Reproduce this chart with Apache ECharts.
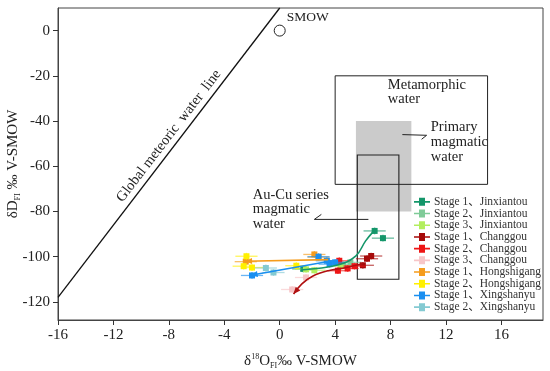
<!DOCTYPE html>
<html><head><meta charset="utf-8">
<script src="https://cdn.jsdelivr.net/npm/echarts@6/dist/echarts.min.js"></script>
<style>html,body{margin:0;padding:0;background:#fff}#c{width:550px;height:371px}</style>
</head><body><div id="c"></div>
<script>
// ---- tick labels / ranges ----
const xTicks = [-16, -12, -8, -4, 0, 4, 8, 12, 16];
const yTicks = [-120, -100, -80, -60, -40, -20, 0];
const xRange = [-16, 19];
const yRange = [-128, 10];

// ---- series (δ18O, δD) ----
const seriesNames = [
  'Stage 1、Jinxiantou', 'Stage 2、Jinxiantou', 'Stage 3、Jinxiantou',
  'Stage 1、Changgou', 'Stage 2、Changgou', 'Stage 3、Changgou',
  'Stage 1、Hongshigang', 'Stage 2、Hongshigang',
  'Stage 1、Xingshanyu', 'Stage 2、Xingshanyu'
];
const s1Jinxiantou = [[6.85, -88.6], [7.45, -91.8], [1.7, -105.4]];
const s2Jinxiantou = [[5.1, -102.5], [4.6, -103.6]];
const s3Jinxiantou = [[1.9, -105.6], [2.5, -106.0], [4.4, -104.2]];
const s1Changgou = [[6.6, -99.7], [6.3, -100.9], [6.0, -103.8]];
const s2Changgou = [[4.2, -106.2], [4.9, -105.2], [5.4, -104.2], [4.3, -101.8]];
const s3Changgou = [[1.9, -109.2], [0.9, -114.5]];
const s1Hongshigang = [[2.5, -99.0], [2.8, -100.2], [-2.45, -102.2]];
const s2Hongshigang = [[-2.4, -99.8], [-2.0, -104.8], [-2.6, -104.2], [1.2, -104.0]];
const s1Xingshanyu = [[-2.0, -108.3], [2.8, -100.0], [3.4, -101.8], [3.6, -103.3], [4.0, -102.5]];
const s2Xingshanyu = [[-1.0, -105.0], [-0.45, -107.0]];
const seriesData = [s1Jinxiantou, s2Jinxiantou, s3Jinxiantou, s1Changgou, s2Changgou, s3Changgou,
  s1Hongshigang, s2Hongshigang, s1Xingshanyu, s2Xingshanyu];
const xErr = 0.8, yErr = 1.5;

// ---- trend curves ----
const trendJinxiantou = [[1.5, -105.9], [4.25, -103.6], [5.5, -99.6], [6.2, -93.0], [6.75, -88.9]];
const trendChanggou = [[6.0, -103.0], [4.8, -104.8], [3.5, -106.2], [2.4, -108.5], [1.6, -112.0], [1.0, -116.5]];
const trendHongshigang = [[3.5, -101.3], [-2.5, -102.0]];
const trendXingshanyu = [[3.8, -101.8], [-2.1, -108.2]];

// ---- reference fields ----
const meteoricLine = [[-16, -118], [0, 10]];
const smowPoint = [0, 0];
const metamorphicBox = [[4, -20], [15, -68]];
const magmaticBox = [[5.5, -40], [9.5, -80]];
const auCuBox = [[5.6, -55], [8.6, -110]];
const primaryPointer = [[8.85, -46.0], [10.6, -46.3]];
const auCuPointer = [[6.4, -83.5], [2.5, -83.5]];

const colors = ['#14966a', '#7fcb98', '#b2ee5e', '#a60a0a', '#ee1515', '#f7c6c8',
  '#f59c1c', '#fff000', '#1a8ff0', '#84cad2'];
const FONT = '"Liberation Serif","Times New Roman","Noto Sans CJK SC",serif';

function markerSeries(i) {
  const color = colors[i];
  return {
    name: seriesNames[i], type: 'custom', coordinateSystem: 'cartesian2d',
    data: seriesData[i], z: 3, itemStyle: { color },
    encode: { x: 0, y: 1 },
    renderItem: (params, api) => {
      const x = api.value(0), y = api.value(1);
      const c = api.coord([x, y]);
      const l = api.coord([x - xErr, y]), r = api.coord([x + xErr, y]);
      const t = api.coord([x, y + yErr]), b = api.coord([x, y - yErr]);
      const s = 3;
      return { type: 'group', children: [
        { type: 'line', shape: { x1: l[0], y1: l[1], x2: r[0], y2: r[1] }, style: { stroke: color, lineWidth: 1.3, opacity: 0.65 } },
        { type: 'line', shape: { x1: t[0], y1: t[1], x2: b[0], y2: b[1] }, style: { stroke: color, lineWidth: 1.3, opacity: 0.65 } },
        { type: 'rect', shape: { x: c[0] - s, y: c[1] - s, width: 2 * s, height: 2 * s }, style: { fill: color } }
      ] };
    }
  };
}

function trendSeries(pts, color, smooth, arrow) {
  return {
    type: 'custom', coordinateSystem: 'cartesian2d', silent: true, z: 4,
    data: [pts[0]], encode: { x: 0, y: 1 },
    renderItem: (params, api) => {
      const p = pts.map(d => api.coord(d));
      const children = [{ type: 'polyline', shape: { points: p, smooth: smooth }, style: { stroke: color, lineWidth: 1.6, fill: null } }];
      if (arrow) {
        const a = p[p.length - 1], b = p[p.length - 2];
        const ang = Math.atan2(a[1] - b[1], a[0] - b[0]);
        const L = 7, W = 3;
        const cx = a[0] - L * Math.cos(ang), cy = a[1] - L * Math.sin(ang);
        children.push({ type: 'polygon', shape: { points: [a,
          [cx + W * Math.sin(ang), cy - W * Math.cos(ang)],
          [cx - W * Math.sin(ang), cy + W * Math.cos(ang)]] }, style: { fill: color } });
      }
      return { type: 'group', children };
    }
  };
}

function rectFrom(api, box) {
  const p0 = api.coord(box[0]), p1 = api.coord(box[1]);
  return { x: Math.min(p0[0], p1[0]), y: Math.min(p0[1], p1[1]), width: Math.abs(p1[0] - p0[0]), height: Math.abs(p1[1] - p0[1]) };
}
function txt(api, pos, text, extra) {
  const p = api.coord(pos);
  return Object.assign({ type: 'text', x: p[0], y: p[1], style: Object.assign({ text, x: 0, y: 0, fill: '#222',
    fontFamily: FONT, fontSize: 14.5, lineHeight: 15, align: 'left', verticalAlign: 'middle' }, extra || {}) });
}

const decorGray = {
  type: 'custom', coordinateSystem: 'cartesian2d', silent: true, z: 1,
  data: [smowPoint], encode: { x: 0, y: 1 },
  renderItem: (params, api) => ({ type: 'rect', shape: rectFrom(api, magmaticBox), style: { fill: '#cbcbcb' } })
};

const decor = {
  type: 'custom', coordinateSystem: 'cartesian2d', silent: true, z: 2,
  data: [smowPoint], encode: { x: 0, y: 1 },
  renderItem: (params, api) => {
    const m0 = api.coord(meteoricLine[0]), m1 = api.coord(meteoricLine[1]);
    const rot = -Math.atan2(m1[1] - m0[1], m1[0] - m0[0]);
    const sm = api.coord(smowPoint);
    const pp0 = api.coord(primaryPointer[0]), pp1 = api.coord(primaryPointer[1]);
    const ap0 = api.coord(auCuPointer[0]), ap1 = api.coord(auCuPointer[1]);
    const stroke = { stroke: '#222', lineWidth: 1, fill: null };
    const children = [
      { type: 'line', shape: { x1: m0[0], y1: m0[1], x2: m1[0], y2: m1[1] }, style: { stroke: '#111', lineWidth: 1.3 } },
      { type: 'rect', shape: rectFrom(api, metamorphicBox), style: stroke },
      { type: 'rect', shape: rectFrom(api, auCuBox), style: { stroke: '#222', lineWidth: 1.1, fill: null } },
      { type: 'circle', shape: { cx: sm[0], cy: sm[1], r: 5.5 }, style: { stroke: '#222', lineWidth: 1, fill: '#fff' } },
      { type: 'polyline', shape: { points: [pp0, pp1, [pp1[0] - 5, pp1[1] + 4]] }, style: stroke },
      { type: 'polyline', shape: { points: [ap0, ap1, [ap1[0] + 7, ap1[1] - 5]] }, style: stroke },
      txt(api, [0.5, 5.6], 'SMOW', { fontSize: 13.5 }),
      txt(api, [7.8, -27.2], 'Metamorphic\nwater', { lineHeight: 14.5 }),
      txt(api, [10.9, -49.3], 'Primary\nmagmatic\nwater'),
      txt(api, [-1.95, -79.0], 'Au-Cu series\nmagmatic\nwater', { lineHeight: 14.5 })
    ];
    const lab = txt(api, [-8.0, -46.6], 'Global meteoric  water  line', { align: 'center', fontSize: 14.5 });
    lab.rotation = rot;
    children.push(lab);
    return { type: 'group', children };
  }
};

const chart = echarts.init(document.getElementById('c'), null, { renderer: 'canvas' });
chart.setOption({
  animation: false,
  backgroundColor: '#fff',
  grid: { left: 58, right: 7, top: 8, bottom: 51, show: true, borderColor: '#444', borderWidth: 1,
    backgroundColor: 'transparent', containLabel: false, outerBoundsMode: 'none' },
  xAxis: {
    type: 'value', min: xRange[0], max: xRange[1],
    name: '{a|δ}{sup|18}{a|O}{sub|FI}{a|‰ V-SMOW}', nameLocation: 'middle', nameGap: 32,
    nameTextStyle: { rich: {
      a: { fontFamily: FONT, fontSize: 15, color: '#222', lineHeight: 18, verticalAlign: 'middle' },
      sup: { fontFamily: FONT, fontSize: 8, color: '#222', lineHeight: 18, verticalAlign: 'top', padding: [1, 0, 0, 0] },
      sub: { fontFamily: FONT, fontSize: 8, color: '#222', lineHeight: 9, verticalAlign: 'bottom' } } },
    axisLine: { show: true, onZero: false, lineStyle: { color: '#444', width: 1 } },
    axisTick: { show: true, inside: false, length: 5, customValues: xTicks, lineStyle: { color: '#333' } },
    axisLabel: { customValues: xTicks, fontFamily: FONT, fontSize: 15, color: '#222', margin: 8 },
    splitLine: { show: false }
  },
  yAxis: {
    type: 'value', min: yRange[0], max: yRange[1],
    name: '{a|δD}{sub|FI}{a| ‰ V-SMOW}', nameLocation: 'middle', nameGap: 36, nameRotate: 90,
    nameMoveOverlap: false,
    nameTextStyle: { rich: {
      a: { fontFamily: FONT, fontSize: 15, color: '#222', lineHeight: 18, verticalAlign: 'middle' },
      sub: { fontFamily: FONT, fontSize: 8, color: '#222', lineHeight: 9, verticalAlign: 'bottom' } } },
    axisLine: { show: true, onZero: false, lineStyle: { color: '#444', width: 1 } },
    axisTick: { show: true, inside: false, length: 5, customValues: yTicks, lineStyle: { color: '#333' } },
    axisLabel: { customValues: yTicks, fontFamily: FONT, fontSize: 15, color: '#222', margin: 8 },
    splitLine: { show: false }
  },
  legend: {
    orient: 'vertical', left: 409, top: 191, itemGap: 0, itemWidth: 16, itemHeight: 8,
    icon: 'path://M0,3.2H5V0H11V3.2H16V4.8H11V8H5V4.8H0Z',
    data: seriesNames,
    textStyle: { fontFamily: FONT, fontSize: 11.5, lineHeight: 11.7, color: '#333', padding: [0, 0, 0, -1] },
    selectedMode: false
  },
  series: [decorGray, decor].concat(
    seriesNames.map((n, i) => markerSeries(i)),
    [trendSeries(trendJinxiantou, colors[0], 0.4, false),
     trendSeries(trendChanggou, '#b01010', 0.4, true),
     trendSeries(trendHongshigang, colors[6], 0, true),
     trendSeries(trendXingshanyu, colors[8], 0, true)])
});
</script></body></html>
